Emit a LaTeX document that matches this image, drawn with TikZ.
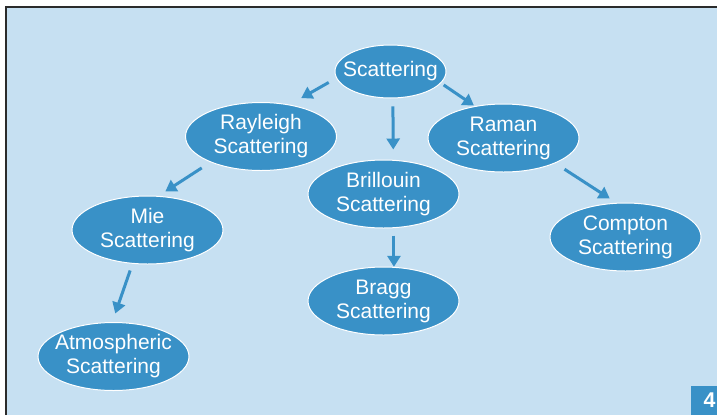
\documentclass[tikz,border=0pt]{standalone}
\usepackage{fontspec}
\setmainfont{Liberation Sans}
\usetikzlibrary{shapes.geometric,arrows.meta}
\definecolor{slidebg}{RGB}{198,224,242}
\definecolor{nodeblue}{RGB}{57,145,199}
\definecolor{framegray}{RGB}{43,43,43}
\tikzset{every picture/.style={line width=0.75pt}}
\tikzset{
  bubble/.style={ellipse, fill=nodeblue, draw=white, line width=0.75pt, text=white,
    inner xsep=-25pt, inner ysep=-6pt, minimum width=113.25pt, minimum height=51pt,
    align=center, font=\fontsize{15.75}{18}\selectfont},
  arr/.style={draw=nodeblue, line width=2.25pt, -{Triangle[length=8.25pt,width=9.75pt]}},
  numbox/.style={fill=nodeblue, text=white, inner sep=0.75pt, text width=17.5pt,
    align=right, minimum height=21.75pt, font=\bfseries\fontsize{16}{16}\selectfont}
}

\begin{document}
\begin{tikzpicture}[x=0.75pt,y=0.75pt,yscale=-1,xscale=1]
\useasboundingbox (0,0) rectangle (717,415);

%Slide background
\fill[slidebg] (6,7) rectangle (717,415);
\draw[framegray, line width=1.5pt] (6,415) -- (6,7) -- (717,7);

% Ellipse Nodes
\node[bubble, minimum width=83.25pt, minimum height=39.75pt] (scat) at (390.5,71.5) {Scattering};
\node[bubble] (rayl) at (261,136.5) {Rayleigh\\Scattering};
\node[bubble] (raman) at (503.5,138) {Raman\\Scattering};
\node[bubble] (brill) at (383.5,194) {Brillouin\\Scattering};
\node[bubble] (mie) at (147.5,230) {Mie\\Scattering};
\node[bubble] (compt) at (625.5,237) {Compton\\Scattering};
\node[bubble] (bragg) at (383.5,301) {Bragg\\Scattering};
\node[bubble] (atmos) at (113.5,356.5) {Atmospheric\\Scattering};

%Straight Lines
\draw[arr, shorten <=6.5pt, shorten >=9.9pt] (scat.187) -- (rayl.48);
\draw[arr, shorten <=2.4pt, shorten >=0.75pt] (scat.347) -- (raman.132);
\draw[arr, shorten <=6pt, shorten >=7.7pt] (scat.275) -- (brill.74);
\draw[arr, shorten <=7.8pt, shorten >=6pt] (rayl.207) -- (mie.72);
\draw[arr, shorten <=5.5pt] (brill.287) -- (bragg.73);
\draw[arr, shorten <=5.3pt, shorten >=6.75pt] (mie.246) -- (atmos.92);
\draw[arr, shorten <=8.25pt, shorten >=5.85pt] (raman.334) -- (compt.105);

% Slide number
\node[numbox, anchor=south east] (pagenum) at (717,415) {4};
\end{tikzpicture}
\end{document}
